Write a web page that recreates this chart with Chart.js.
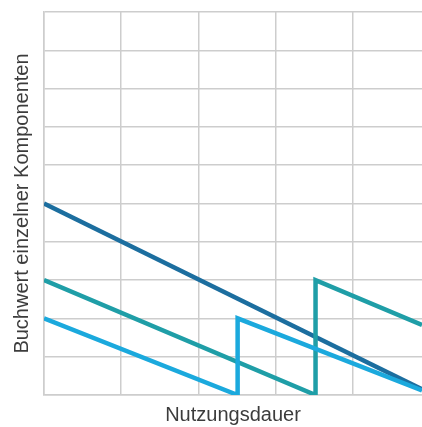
<!DOCTYPE html>
<html>
<head>
<meta charset="utf-8">
<script src="https://cdn.jsdelivr.net/npm/chart.js@4.4.1/dist/chart.umd.min.js"></script>
<style>
  html, body { margin: 0; padding: 0; background: #fff; }
  #wrap { width: 422px; height: 427px; }
</style>
</head>
<body>
<div id="wrap"><canvas id="chart"></canvas></div>
<script>
// Buchwert over Nutzungsdauer, x in grid columns, y in grid rows
const darkX = [0, 4.9];
const darkY = [5, 0.15];
const tealX = [0, 3.52, 3.52, 4.9];
const tealY = [3, 0, 3, 1.83];
const blueX = [0, 2.51, 2.51, 4.9];
const blueY = [2, 0, 2, 0.12];

const xTitle = 'Nutzungsdauer';
const yTitle = 'Buchwert einzelner Komponenten';

const gridColor = '#cdcdcd';

function toPoints(xs, ys) {
  let pts = [];
  for (let i = 0; i < xs.length; i++) {
    pts.push({x: xs[i], y: ys[i]});
  }
  return pts;
}

const ctx = document.getElementById('chart').getContext('2d');
new Chart(ctx, {
  type: 'line',
  data: {
    datasets: [
      { data: toPoints(darkX, darkY), borderColor: '#1c6e9f', order: 3 },
      { data: toPoints(tealX, tealY), borderColor: '#1f9ea7', order: 2 },
      { data: toPoints(blueX, blueY), borderColor: '#1ba9dd', order: 1 }
    ]
  },
  options: {
    responsive: true,
    maintainAspectRatio: false,
    animation: false,
    layout: { padding: { top: 12, right: 0, bottom: 0, left: 0 } },
    elements: {
      line: { borderWidth: 4.5, tension: 0, borderJoinStyle: 'miter' },
      point: { radius: 0 }
    },
    plugins: { legend: { display: false }, tooltip: { enabled: false } },
    scales: {
      x: {
        type: 'linear',
        min: 0,
        max: 4.9,
        afterBuildTicks: (scale) => {
          // no grid line on the clipped right edge
          scale.ticks = scale.ticks.filter(t => Number.isInteger(t.value));
        },
        ticks: { display: false, stepSize: 1 },
        grid: { color: gridColor, lineWidth: 1.5, drawTicks: false },
        border: { color: gridColor, width: 1.5 },
        title: {
          display: true,
          text: xTitle,
          color: '#3c3c3c',
          font: { family: 'Liberation Sans', size: 20 },
          padding: { top: 0, bottom: 0 }
        },
        afterFit: (scale) => { scale.height = 32; }
      },
      y: {
        min: 0,
        max: 10,
        ticks: { display: false, stepSize: 1 },
        grid: { color: gridColor, lineWidth: 1.5, drawTicks: false },
        border: { color: gridColor, width: 1.5 },
        title: {
          display: true,
          text: yTitle,
          color: '#3c3c3c',
          font: { family: 'Liberation Sans', size: 20 },
          padding: { top: 10, bottom: 0 }
        },
        afterFit: (scale) => { scale.width = 44; }
      }
    }
  }
});
</script>
</body>
</html>
